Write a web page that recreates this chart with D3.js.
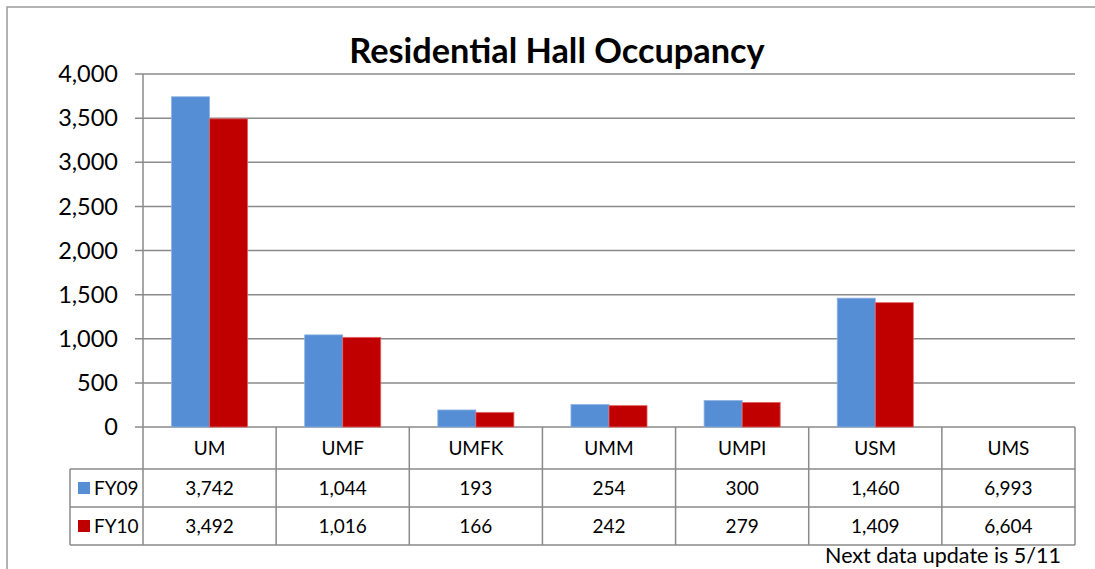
<!DOCTYPE html>
<html><head><meta charset="utf-8">
<script src="https://cdn.jsdelivr.net/npm/d3@7"></script>
<style>
html,body{margin:0;padding:0;background:#fff;}
svg{display:block;font-family:Lato,"Open Sans",sans-serif;}
</style></head>
<body>
<svg id="chart" width="1095" height="569"></svg>
<script>
const categories = ["UM","UMF","UMFK","UMM","UMPI","USM","UMS"];
const seriesNames = ["FY09","FY10"];
const fy09 = [3742,1044,193,254,300,1460,6993];
const fy10 = [3492,1016,166,242,279,1409,6604];
const barShown = [true,true,true,true,true,true,false];
const yTicks = [0,500,1000,1500,2000,2500,3000,3500,4000];
const colors = ["#558ed5","#c00000"];
const strokeColors = ["#8db3e2","#e06666"];
const titleText = "Residential Hall Occupancy";
const noteText = "Next data update is 5/11";

(function(){
const series = [fy09, fy10];
const svg = d3.select("#chart");
const grid = "#8a8a8a";

const pLeft = 143, pRight = 1075, pTop = 74, pBase = 427;
const rowH = [427, 469, 507, 545];
const legendLeft = 70;

// outer border
svg.append("rect").attr("x",7).attr("y",7).attr("width",1100).attr("height",600)
  .attr("fill","none").attr("stroke","#9a9a9a").attr("stroke-width",1.5);

const x0 = d3.scaleBand().domain(categories).range([pLeft,pRight]).padding(0);
const x1 = d3.scaleBand().domain(seriesNames).range([0,x0.bandwidth()]).paddingInner(0).paddingOuter(0.75);
const y = d3.scaleLinear().domain([0,4000]).range([pBase,pTop]);

// gridlines
svg.append("g").selectAll("line").data(yTicks).join("line")
  .attr("x1",135).attr("x2",pRight).attr("y1",d=>y(d)).attr("y2",d=>y(d))
  .attr("stroke",grid).attr("stroke-width",1.5);

// y axis labels
svg.append("g").selectAll("text").data(yTicks).join("text")
  .attr("x",118).attr("y",d=>y(d)).attr("dy","0.35em").attr("text-anchor","end")
  .attr("font-size",23.5).attr("fill","#000").text(d=>d3.format(",")(d));

// bars
const g = svg.append("g");
categories.forEach((c,i)=>{
  if(!barShown[i]) return;
  seriesNames.forEach((s,j)=>{
    const v = series[j][i];
    g.append("rect")
      .attr("x",x0(c)+x1(s)).attr("width",x1.bandwidth())
      .attr("y",y(v)).attr("height",y(0)-y(v))
      .attr("fill",colors[j]).attr("stroke",strokeColors[j]).attr("stroke-width",0.8);
  });
});

// table lines
const t = svg.append("g").attr("stroke",grid).attr("stroke-width",1.5);
t.append("line").attr("x1",pLeft).attr("x2",pLeft).attr("y1",pTop).attr("y2",rowH[3]);
x0.domain().slice(1).forEach(c=>{
  t.append("line").attr("x1",x0(c)).attr("x2",x0(c)).attr("y1",rowH[0]).attr("y2",rowH[3]);
});
t.append("line").attr("x1",pRight).attr("x2",pRight).attr("y1",rowH[0]).attr("y2",rowH[3]);
t.append("line").attr("x1",legendLeft).attr("x2",legendLeft).attr("y1",rowH[1]).attr("y2",rowH[3]);
[1,2,3].forEach(k=>{
  t.append("line").attr("x1",legendLeft).attr("x2",pRight).attr("y1",rowH[k]).attr("y2",rowH[k]);
});

// category labels
svg.append("g").selectAll("text").data(categories).join("text")
  .attr("x",d=>x0(d)+x0.bandwidth()/2).attr("y",(rowH[0]+rowH[1])/2).attr("dy","0.35em")
  .attr("text-anchor","middle").attr("font-size",19).text(d=>d);

// values and legend
series.forEach((vals,j)=>{
  const cy = (rowH[j+1]+rowH[j+2])/2;
  svg.append("g").selectAll("text").data(vals).join("text")
    .attr("x",(d,i)=>x0(categories[i])+x0.bandwidth()/2).attr("y",cy).attr("dy","0.35em")
    .attr("text-anchor","middle").attr("font-size",19).text(d=>d3.format(",")(d));
  svg.append("rect").attr("x",78).attr("y",cy-6).attr("width",12).attr("height",12).attr("fill",colors[j]);
  svg.append("text").attr("x",94).attr("y",cy).attr("dy","0.35em").attr("font-size",19).text(seriesNames[j]);
});

// title
svg.append("text").attr("x",557).attr("y",63).attr("text-anchor","middle")
  .attr("font-size",34.3).attr("font-weight","bold").text(titleText);

// note
svg.append("text").attr("x",1061).attr("y",563).attr("text-anchor","end")
  .attr("font-size",21.5).text(noteText);
})();
</script>
</body></html>
